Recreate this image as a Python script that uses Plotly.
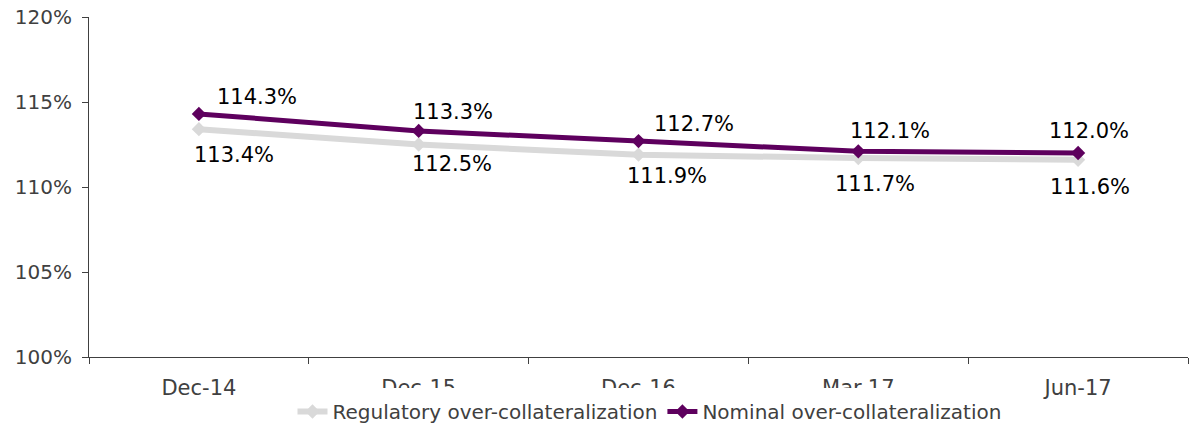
import plotly.graph_objects as go

categories = ["Dec-14", "Dec-15", "Dec-16", "Mar-17", "Jun-17"]
regulatory = [113.4, 112.5, 111.9, 111.7, 111.6]
nominal = [114.3, 113.3, 112.7, 112.1, 112.0]
y_ticks = [100, 105, 110, 115, 120]
y_tick_labels = ["100%", "105%", "110%", "115%", "120%"]

# label offsets (pixels) - styling only
nom_shift = [(58, 17), (34, 19), (55, 17), (32, 20), (11, 22)]
reg_shift = [(35, -26), (33, -19), (28, -21), (17, -26), (12, -27)]

FONT = "DejaVu Sans"
GRAY = "#D9D9D9"
PURPLE = "#5E005E"

fig = go.Figure()
fig.add_trace(go.Scatter(
    x=categories, y=regulatory, mode="lines+markers",
    name="Regulatory over-collateralization",
    line=dict(color=GRAY, width=6),
    marker=dict(symbol="diamond", size=11, color=GRAY),
))
fig.add_trace(go.Scatter(
    x=categories, y=nominal, mode="lines+markers",
    name="Nominal over-collateralization",
    line=dict(color=PURPLE, width=5),
    marker=dict(symbol="diamond", size=11, color=PURPLE),
))

for c, v, (dx, dy) in zip(categories, nominal, nom_shift):
    fig.add_annotation(x=c, y=v, text=f"{v:.1f}%", showarrow=False,
                       xshift=dx, yshift=dy, font=dict(family=FONT, size=21, color="#000000"))
for c, v, (dx, dy) in zip(categories, regulatory, reg_shift):
    fig.add_annotation(x=c, y=v, text=f"{v:.1f}%", showarrow=False,
                       xshift=dx, yshift=dy, font=dict(family=FONT, size=21, color="#000000"))

fig.update_layout(
    width=1192, height=427,
    margin=dict(l=89, r=4, t=17, b=70, autoexpand=False),
    paper_bgcolor="white", plot_bgcolor="white",
    font=dict(family=FONT, size=20, color="#404040"),
    showlegend=True,
    legend=dict(orientation="h", x=0.51, xanchor="center",
                yref="container", y=(427 - 388) / 427, yanchor="top",
                bgcolor="white", bordercolor="white", borderwidth=4,
                font=dict(family=FONT, size=20, color="#404040"),
                itemwidth=30, tracegroupgap=0),
    xaxis=dict(type="category", showline=True, linecolor="#404040", linewidth=1,
               ticks="outside", ticklen=6, tickcolor="#404040", tickson="boundaries",
               showgrid=False, ticklabelstandoff=12, automargin=False,
               tickfont=dict(family=FONT, size=21, color="#404040"),
               range=[-0.5, 4.5]),
    yaxis=dict(range=[100, 120], tickvals=y_ticks, ticktext=y_tick_labels,
               showline=True, linecolor="#404040", linewidth=1,
               ticks="outside", ticklen=6, tickcolor="#404040",
               showgrid=False, zeroline=False, ticklabelstandoff=6,
               ticklabeloverflow="allow", automargin=False,
               tickfont=dict(family=FONT, size=20, color="#404040")),
)

fig.write_html("out.html", config={"displayModeBar": False},
               post_script="document.body.style.margin='0';document.body.style.overflow='hidden';")
